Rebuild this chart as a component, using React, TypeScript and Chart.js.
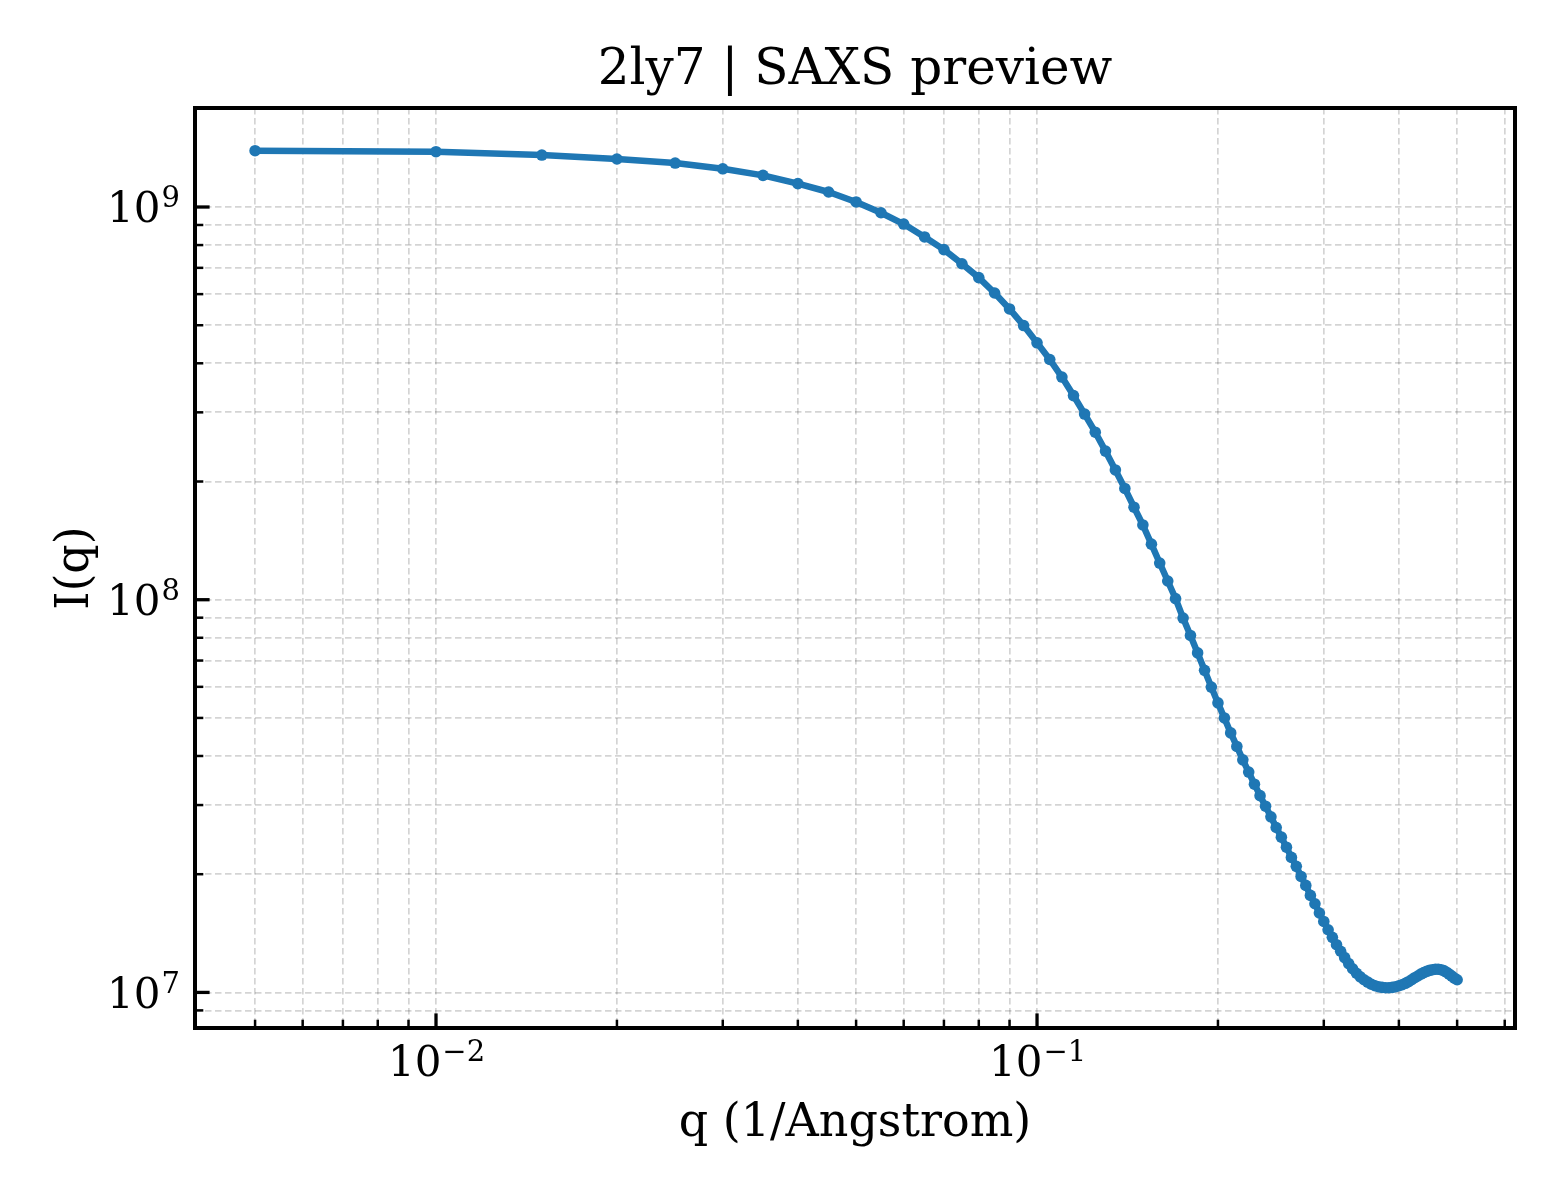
import React, { useEffect, useRef } from 'react';
import { Chart, registerables } from 'chart.js';

Chart.register(...registerables);

// ---------- data ----------
const qValues = [
  0.005, 0.010, 0.015, 0.020, 0.025, 0.030, 0.035, 0.040, 0.045, 0.050,
  0.055, 0.060, 0.065, 0.070, 0.075, 0.080, 0.085, 0.090, 0.095, 0.100,
  0.105, 0.110, 0.115, 0.120, 0.125, 0.130, 0.135, 0.140, 0.145, 0.150,
  0.155, 0.160, 0.165, 0.170, 0.175, 0.180, 0.185, 0.190, 0.195, 0.200,
  0.205, 0.210, 0.215, 0.220, 0.225, 0.230, 0.235, 0.240, 0.245, 0.250,
  0.255, 0.260, 0.265, 0.270, 0.275, 0.280, 0.285, 0.290, 0.295, 0.300,
  0.305, 0.310, 0.315, 0.320, 0.325, 0.330, 0.335, 0.340, 0.345, 0.350,
  0.355, 0.360, 0.365, 0.370, 0.375, 0.380, 0.385, 0.390, 0.395, 0.400,
  0.405, 0.410, 0.415, 0.420, 0.425, 0.430, 0.435, 0.440, 0.445, 0.450,
  0.455, 0.460, 0.465, 0.470, 0.475, 0.480, 0.485, 0.490, 0.495, 0.500,
];

const intensityValues = [
  1.391e9, 1.383e9, 1.356e9, 1.325e9, 1.294e9, 1.251e9, 1.204e9, 1.147e9, 1.092e9, 1.030e9,
  9.67e8, 9.05e8, 8.39e8, 7.79e8, 7.17e8, 6.61e8, 6.04e8, 5.50e8, 4.99e8, 4.51e8,
  4.09e8, 3.69e8, 3.31e8, 2.97e8, 2.67e8, 2.39e8, 2.14e8, 1.92e8, 1.72e8, 1.55e8,
  1.385e8, 1.24e8, 1.116e8, 1.007e8, 8.98e7, 8.11e7, 7.32e7, 6.61e7, 5.99e7, 5.46e7,
  5.00e7, 4.58e7, 4.23e7, 3.91e7, 3.64e7, 3.39e7, 3.17e7, 2.98e7, 2.80e7, 2.63e7,
  2.485e7, 2.343e7, 2.207e7, 2.094e7, 1.974e7, 1.873e7, 1.766e7, 1.682e7, 1.593e7, 1.516e7,
  1.444e7, 1.381e7, 1.323e7, 1.273e7, 1.226e7, 1.184e7, 1.149e7, 1.119e7, 1.096e7, 1.077e7,
  1.062e7, 1.049e7, 1.040e7, 1.034e7, 1.030e7, 1.028e7, 1.028e7, 1.030e7, 1.034e7, 1.040e7,
  1.046e7, 1.055e7, 1.065e7, 1.077e7, 1.090e7, 1.101e7, 1.113e7, 1.123e7, 1.131e7, 1.138e7,
  1.142e7, 1.146e7, 1.146e7, 1.142e7, 1.136e7, 1.126e7, 1.113e7, 1.100e7, 1.087e7, 1.077e7,
];

const xMajorTicks = [0.01, 0.1];
const xMajorExponents = ['\u22122', '\u22121'];
const xMinorTicks = [
  0.005, 0.006, 0.007, 0.008, 0.009,
  0.02, 0.03, 0.04, 0.05, 0.06, 0.07, 0.08, 0.09,
  0.2, 0.3, 0.4, 0.5, 0.6,
];
const yMajorTicks = [1e7, 1e8, 1e9];
const yMajorExponents = ['7', '8', '9'];
const yMinorTicks = [
  9e6,
  2e7, 3e7, 4e7, 5e7, 6e7, 7e7, 8e7, 9e7,
  2e8, 3e8, 4e8, 5e8, 6e8, 7e8, 8e8, 9e8,
];

const xLimits = [0.003972, 0.6241];
const yLimits = [8.117e6, 1.787e9];

const titleText = '2ly7 | SAXS preview';
const xLabelText = 'q (1/Angstrom)';
const yLabelText = 'I(q)';

// ---------- styles ----------
const W = 1560;
const H = 1200;
const LINE_COLOR = '#1f77b4';
const GRID_COLOR = 'rgba(0,0,0,0.17)';
const FONT = '"DejaVu Serif", "Liberation Serif", serif';
const TICK_FONT_PX = 42;
const SUP_FONT_PX = 29;
const SUP_RAISE = 15;

const overlayPlugin = {
  id: 'mplOverlay',
  afterDraw(chart: any) {
    const { ctx, chartArea } = chart;
    const { left, right, top, bottom } = chartArea;
    const xs = chart.scales.x;
    const ys = chart.scales.y;
    ctx.save();

    // tick marks (inward)
    ctx.strokeStyle = '#000';
    ctx.lineCap = 'butt';
    const drawX = (vals: number[], len: number, lw: number) => {
      ctx.lineWidth = lw;
      vals.forEach((v) => {
        const px = xs.getPixelForValue(v);
        ctx.beginPath();
        ctx.moveTo(px, bottom);
        ctx.lineTo(px, bottom - len);
        ctx.stroke();
      });
    };
    const drawY = (vals: number[], len: number, lw: number) => {
      ctx.lineWidth = lw;
      vals.forEach((v) => {
        const py = ys.getPixelForValue(v);
        ctx.beginPath();
        ctx.moveTo(left, py);
        ctx.lineTo(left + len, py);
        ctx.stroke();
      });
    };
    drawX(xMinorTicks, 8.3, 2.5);
    drawX(xMajorTicks, 14.6, 3.3);
    drawY(yMinorTicks, 8.3, 2.5);
    drawY(yMajorTicks, 14.6, 3.3);

    // spines
    ctx.lineWidth = 4;
    ctx.strokeRect(left, top, right - left, bottom - top);

    // tick labels
    ctx.fillStyle = '#000';
    ctx.textBaseline = 'alphabetic';
    ctx.textAlign = 'left';
    const baseFont = `${TICK_FONT_PX}px ${FONT}`;
    const supFont = `${SUP_FONT_PX}px ${FONT}`;
    xMajorTicks.forEach((v, i) => {
      const px = xs.getPixelForValue(v);
      ctx.font = baseFont;
      const wb = ctx.measureText('10').width;
      ctx.font = supFont;
      const ws = ctx.measureText(xMajorExponents[i]).width;
      const x0 = px - (wb + ws) / 2;
      const base = bottom + 48;
      ctx.font = baseFont;
      ctx.fillText('10', x0, base);
      ctx.font = supFont;
      ctx.fillText(xMajorExponents[i], x0 + wb + 1, base - SUP_RAISE);
    });
    yMajorTicks.forEach((v, i) => {
      const py = ys.getPixelForValue(v);
      ctx.font = baseFont;
      const wb = ctx.measureText('10').width;
      ctx.font = supFont;
      const ws = ctx.measureText(yMajorExponents[i]).width;
      const xr = left - 15;
      const base = py + 15.3;
      ctx.font = baseFont;
      ctx.fillText('10', xr - ws - wb - 1, base);
      ctx.font = supFont;
      ctx.fillText(yMajorExponents[i], xr - ws, base - SUP_RAISE);
    });

    // title
    ctx.textAlign = 'center';
    ctx.font = `50px ${FONT}`;
    ctx.fillText(titleText, (left + right) / 2, top - 24);

    // x label
    ctx.font = `46px ${FONT}`;
    ctx.fillText(xLabelText, (left + right) / 2, 1136);

    // y label
    ctx.save();
    ctx.translate(88, (top + bottom) / 2);
    ctx.rotate(-Math.PI / 2);
    ctx.fillText(yLabelText, 0, 0);
    ctx.restore();

    ctx.restore();
  },
};

export default function App() {
  const canvasRef = useRef<HTMLCanvasElement | null>(null);

  useEffect(() => {
    document.body.style.margin = '0';
    document.body.style.background = '#ffffff';
    const canvas = canvasRef.current;
    if (!canvas) return;
    const points = qValues.map((q, i) => ({ x: q, y: intensityValues[i] }));
    const allX = [...xMinorTicks, ...xMajorTicks].sort((a, b) => a - b);
    const allY = [...yMinorTicks, ...yMajorTicks].sort((a, b) => a - b);

    const chart = new Chart(canvas, {
      type: 'line',
      data: {
        datasets: [
          {
            label: 'I(q)',
            data: points,
            borderColor: LINE_COLOR,
            backgroundColor: LINE_COLOR,
            borderWidth: 6.5,
            borderJoinStyle: 'round',
            pointRadius: 5.8,
            pointHoverRadius: 5.8,
            pointBackgroundColor: LINE_COLOR,
            pointBorderWidth: 0,
            fill: false,
            tension: 0,
          },
        ],
      },
      options: {
        responsive: false,
        animation: false,
        devicePixelRatio: 1,
        layout: { padding: { left: 195, right: W - 1515, top: 108, bottom: H - 1028 } },
        plugins: {
          legend: { display: false },
          title: { display: false },
          tooltip: { enabled: false },
        },
        events: [],
        scales: {
          x: {
            type: 'logarithmic',
            min: xLimits[0],
            max: xLimits[1],
            afterBuildTicks: (scale: any) => {
              scale.ticks = allX.map((v) => ({ value: v }));
            },
            afterFit: (scale: any) => {
              scale.height = 0;
            },
            ticks: { display: false },
            grid: { color: GRID_COLOR, lineWidth: 1.7, drawTicks: false },
            border: { display: false, dash: [6.5, 3.5] },
          },
          y: {
            type: 'logarithmic',
            min: yLimits[0],
            max: yLimits[1],
            afterBuildTicks: (scale: any) => {
              scale.ticks = allY.map((v) => ({ value: v }));
            },
            afterFit: (scale: any) => {
              scale.width = 0;
            },
            ticks: { display: false },
            grid: { color: GRID_COLOR, lineWidth: 1.7, drawTicks: false },
            border: { display: false, dash: [6.5, 3.5] },
          },
        },
      },
      plugins: [overlayPlugin],
    } as any);

    return () => {
      chart.destroy();
    };
  }, []);

  return (
    <div style={{ width: W, height: H, background: '#fff' }}>
      <canvas ref={canvasRef} width={W} height={H} style={{ display: 'block', width: W, height: H }} />
    </div>
  );
}
